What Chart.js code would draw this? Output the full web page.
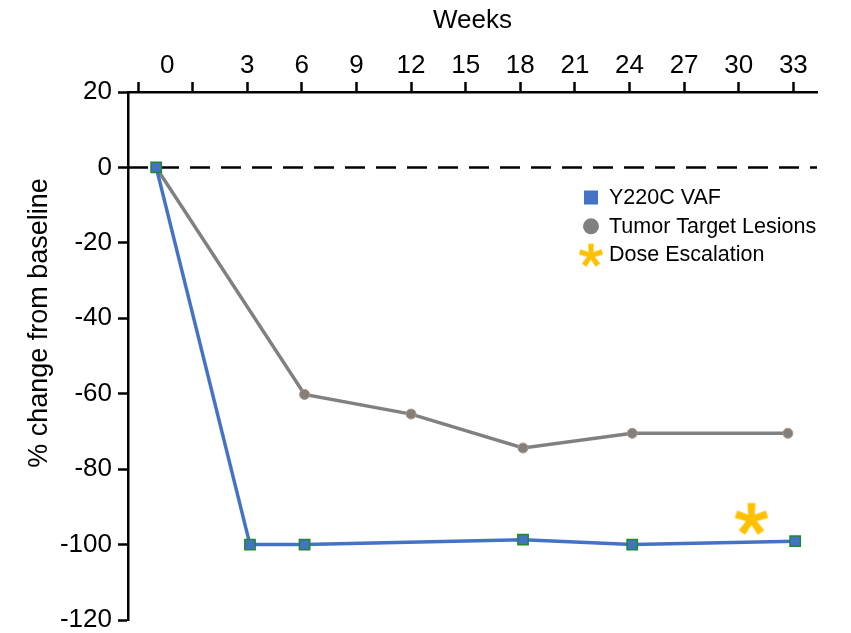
<!DOCTYPE html>
<html>
<head>
<meta charset="utf-8">
<script src="https://cdn.jsdelivr.net/npm/chart.js@4.4.0/dist/chart.umd.min.js"></script>
<style>
  html, body { margin: 0; padding: 0; background: #ffffff; }
  #wrap { width: 851px; height: 633px; }
</style>
</head>
<body>
<div id="wrap"><canvas id="c" width="851" height="633"></canvas></div>
<script>
// Weeks on study and % change from baseline for each series
const vafWeeks = [-2, 3.15, 6.15, 18.15, 24.15, 33.1];
const vafChange = [0, -100, -100, -98.7, -100, -99.1];
const lesionWeeks = [-2, 6.15, 12, 18.15, 24.15, 32.7];
const lesionChange = [0, -60.2, -65.4, -74.4, -70.5, -70.5];
const escalationWeeks = [30.7];
const escalationChange = [-93.3];

const seriesNames = ['Y220C VAF', 'Tumor Target Lesions', 'Dose Escalation'];

// Axis ticks
const weekTickValues = [-3, -1.4, 0, 3, 6, 9, 12, 15, 18, 21, 24, 27, 30, 33];
const weekTickLabels = ['', '0', '', '3', '6', '9', '12', '15', '18', '21', '24', '27', '30', '33'];
const changeTicks = [20, 0, -20, -40, -60, -80, -100, -120];

const FONT = "'Liberation Sans', Arial, Helvetica, sans-serif";
const BLUE = '#4472C4';
const GREY = '#808080';
const GOLD = '#FFC000';

// Five-armed asterisk drawn onto a small canvas, used as a point style
function makeAsterisk(size, radius, color) {
  const c = document.createElement('canvas');
  c.width = size; c.height = size;
  const g = c.getContext('2d');
  g.translate(size / 2, size / 2);
  g.fillStyle = color;
  const inner = radius * 0.19, outer = radius * 0.24;
  for (let i = 0; i < 5; i++) {
    g.save();
    g.rotate(i * 2 * Math.PI / 5);
    g.beginPath();
    g.moveTo(-inner, 0);
    g.lineTo(inner, 0);
    g.lineTo(outer, -radius);
    g.lineTo(-outer, -radius);
    g.closePath();
    g.fill();
    g.restore();
  }
  return c;
}
const asteriskPoint = makeAsterisk(36, 16.3, GOLD);
const asteriskKey = makeAsterisk(26, 11.8, GOLD);

// Dashed reference line at 0 %
const zeroLine = {
  id: 'zeroLine',
  beforeDatasetsDraw(chart) {
    const { ctx, chartArea, scales } = chart;
    const y = scales.y.getPixelForValue(0);
    ctx.save();
    ctx.strokeStyle = '#000';
    ctx.lineWidth = 2.5;
    ctx.setLineDash([20, 11]);
    ctx.beginPath();
    ctx.moveTo(chartArea.left, y);
    ctx.lineTo(chartArea.right, y);
    ctx.stroke();
    ctx.restore();
  }
};

// Vertical axis title
const yTitle = {
  id: 'yTitle',
  afterDraw(chart) {
    const { ctx, chartArea } = chart;
    ctx.save();
    ctx.translate(40, chartArea.top + 231);
    ctx.rotate(-Math.PI / 2);
    ctx.fillStyle = '#000';
    ctx.font = '27px ' + FONT;
    ctx.textAlign = 'center';
    ctx.textBaseline = 'middle';
    ctx.fillText('% change from baseline', 0, 0);
    ctx.restore();
  }
};

// Key placed inside the plot area
const insetKey = {
  id: 'insetKey',
  afterDraw(chart) {
    const { ctx, chartArea } = chart;
    const mx = chartArea.left + 463;
    const tx = chartArea.left + 481;
    const rows = [105.5, 134.3, 162.5].map(d => chartArea.top + d);
    ctx.save();
    ctx.font = '21.5px ' + FONT;
    ctx.textBaseline = 'middle';
    ctx.textAlign = 'left';
    // square
    ctx.fillStyle = BLUE;
    ctx.fillRect(mx - 7, rows[0] - 7, 14, 14);
    // circle
    ctx.fillStyle = GREY;
    ctx.beginPath();
    ctx.arc(mx, rows[1], 8, 0, Math.PI * 2);
    ctx.fill();
    // asterisk
    ctx.drawImage(asteriskKey, mx - asteriskKey.width / 2, rows[2] - asteriskKey.height / 2 + 1);
    ctx.fillStyle = '#000';
    seriesNames.forEach((name, i) => ctx.fillText(name, tx, rows[i] + 1));
    ctx.restore();
  }
};

const toPoints = (xs, ys) => xs.map((x, i) => ({ x: x, y: ys[i] }));

new Chart(document.getElementById('c'), {
  type: 'scatter',
  data: {
    datasets: [
      {
        label: seriesNames[0],
        data: toPoints(vafWeeks, vafChange),
        showLine: true,
        borderColor: BLUE,
        borderWidth: 3.5,
        pointStyle: 'rect',
        pointRadius: 7.3,
        pointBackgroundColor: BLUE,
        pointBorderColor: '#1E8A2E',
        pointBorderWidth: 1.5
      },
      {
        label: seriesNames[1],
        data: toPoints(lesionWeeks, lesionChange),
        showLine: true,
        borderColor: GREY,
        borderWidth: 3.5,
        pointStyle: 'circle',
        pointRadius: 5,
        pointBackgroundColor: GREY,
        pointBorderColor: '#B89478',
        pointBorderWidth: 1
      },
      {
        label: seriesNames[2],
        data: toPoints(escalationWeeks, escalationChange),
        showLine: false,
        pointStyle: asteriskPoint,
        pointRadius: 17
      }
    ]
  },
  options: {
    responsive: false,
    animation: false,
    events: [],
    layout: { autoPadding: false, padding: { left: 0, right: 34, top: 0, bottom: 13 } },
    plugins: {
      legend: { display: false },
      tooltip: { enabled: false }
    },
    scales: {
      x: {
        type: 'linear',
        position: 'top',
        min: -3.55,
        max: 34.3,
        afterBuildTicks: s => { s.ticks = weekTickValues.map(v => ({ value: v })); },
        afterFit: s => { s.height = 92; s.paddingLeft = 0; s.paddingRight = 0; },
        ticks: {
          autoSkip: false,
          maxRotation: 0,
          padding: 1,
          color: '#000',
          font: { family: FONT, size: 26 },
          callback: v => weekTickLabels[weekTickValues.indexOf(v)]
        },
        grid: {
          drawOnChartArea: false,
          tickLength: 10,
          tickWidth: 2.5,
          tickColor: ctx => (ctx.tick && ctx.tick.value === -1.4) ? 'rgba(0,0,0,0)' : '#000'
        },
        border: { color: '#000', width: 2.5 },
        title: {
          display: true,
          text: 'Weeks',
          color: '#000',
          font: { family: FONT, size: 26 },
          padding: { top: 5, bottom: 0 }
        }
      },
      y: {
        type: 'linear',
        min: -120,
        max: 20,
        afterBuildTicks: s => { s.ticks = changeTicks.map(v => ({ value: v })); },
        afterFit: s => { s.width = 128; s.paddingTop = 0; s.paddingBottom = 0; },
        ticks: {
          padding: 6,
          color: '#000',
          font: { family: FONT, size: 26 },
          callback: v => String(v)
        },
        grid: {
          drawOnChartArea: false,
          tickLength: 10,
          tickWidth: 2.5,
          tickColor: '#000'
        },
        border: { color: '#000', width: 2.5 }
      }
    }
  },
  plugins: [zeroLine, yTitle, insetKey]
});
</script>
</body>
</html>
